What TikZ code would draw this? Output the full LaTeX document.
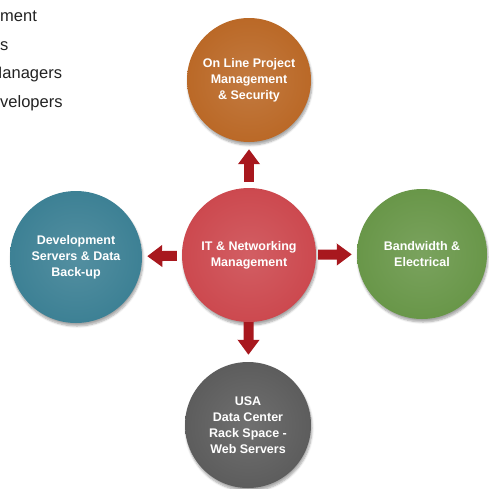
\documentclass[tikz,border=0pt]{standalone}
\usepackage{fontspec}
\setmainfont{Liberation Sans}
\usetikzlibrary{arrows.meta,shadows.blur}
\definecolor{pmorange}{RGB}{186,104,38}
\definecolor{itred}{RGB}{204,72,78}
\definecolor{devblue}{RGB}{60,128,148}
\definecolor{bwgreen}{RGB}{104,150,72}
\definecolor{webgrey}{RGB}{92,92,92}
\definecolor{arrowred}{RGB}{168,24,30}
\definecolor{listgrey}{RGB}{34,34,34}
\colorlet{discc}{itred}
\pgfdeclareradialshading[discc]{discshade}{\pgfpoint{0bp}{0bp}}{color(0bp)=(discc!88!white); color(26bp)=(discc); color(42bp)=(discc); color(50bp)=(discc!68!black)}
\tikzset{
  tint/.code={\colorlet{discc}{#1}},
  disc/.style={circle, inner sep=0pt, minimum size=#1, shade, shading=discshade,
    text=white, align=center, font=\bfseries\fontsize{12.5}{16}\selectfont,
    blur shadow={shadow xshift=1pt, shadow yshift=-3pt, shadow blur steps=6, shadow opacity=35}},
  flow/.style={draw=arrowred, line width=10pt, -{Triangle[width=21pt,length=15pt]}},
  list/.style={anchor=base west, inner sep=0pt, text=listgrey, font=\fontsize{16.5}{20}\selectfont}
}
\begin{document}
\begin{tikzpicture}[x=1pt, y=-1pt]
\useasboundingbox (0,0) rectangle (489,488);
\clip (0,0) rectangle (489,488);
% list text cut off at the left edge
\node[list] (l1) at (0,21) {ment};
\node[list] (l2) at (0,50) {s};
\node[list] (l3) at (-11.5,78) {Managers};
\node[list] (l4) at (0,107) {velopers};
% discs
\node[disc=134pt, tint=itred] (it) at (249,255) {IT \& Networking\\Management};
\node[disc=124pt, tint=pmorange] (pm) at (249,80) {On Line Project\\Management\\\& Security};
\node[disc=132pt, tint=devblue] (dev) at (76,257) {Development\\Servers \& Data\\Back-up};
\node[disc=130pt, tint=bwgreen] (bw) at (422,254) {Bandwidth \&\\Electrical};
\node[disc=126pt, tint=webgrey] (web) at (248,425) {USA\\Data Center\\Rack Space -\\Web Servers};
% arrows
\draw[flow, shorten <=6pt, shorten >=7pt] (it) -- (pm);
\draw[flow, shorten <=5pt, shorten >=5pt] (it) -- (dev);
\draw[flow, shorten <=2pt, shorten >=5pt] (it) -- (bw);
\draw[flow, shorten <=0pt, shorten >=7pt] (it) -- (web);
\end{tikzpicture}
\end{document}
